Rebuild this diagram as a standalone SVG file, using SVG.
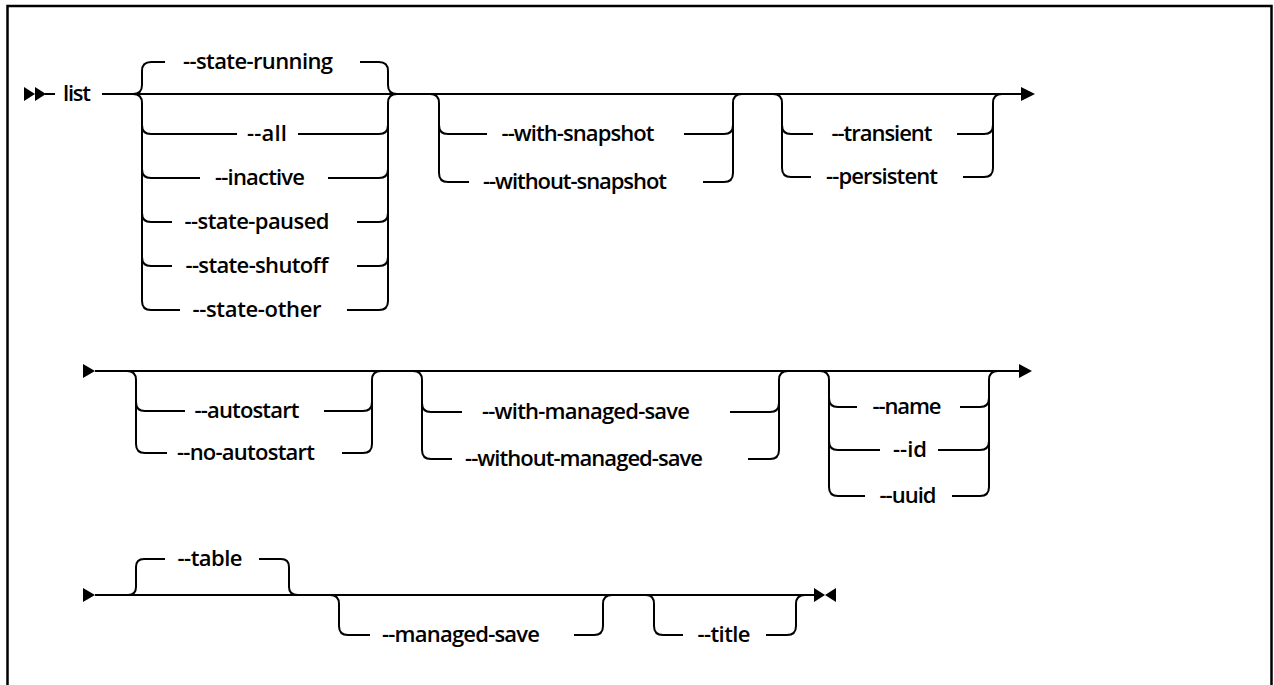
<svg xmlns="http://www.w3.org/2000/svg" width="1274" height="685" viewBox="0 0 1274 685">
<style>
.ln{fill:none;stroke:#000;stroke-width:2}
.t{font-family:"Open Sans","Liberation Sans",sans-serif;font-size:22px;font-weight:600;fill:#000;text-anchor:middle}
.hd{fill:#000;stroke:none}
</style>
<rect x="0" y="0" width="1274" height="685" fill="#fff"/>
<rect x="7.5" y="6" width="1264" height="700" fill="none" stroke="#000" stroke-width="2.5"/>
<g id="connectors">
<path class="hd" d="M24,87 L35,94 L24,101 Z M35,87 L46,94 L35,101 Z"/>
<path class="ln" d="M45,94 H55 M102,94 H1022"/>
<path class="hd" d="M1021,87 L1035,94 L1021,101 Z"/>
<path class="ln" d="M133,94 Q142,94 142,85 V71 Q142,62 151,62 H165 M360,62 H379 Q388,62 388,71 V85 Q388,94 397,94"/>
<path class="ln" d="M133,94 Q142,94 142,103 V301 Q142,310 151,310 H180 M142,125 Q142,134 151,134 H237 M142,169 Q142,178 151,178 H200 M142,213 Q142,222 151,222 H172 M142,257 Q142,266 151,266 H172"/>
<path class="ln" d="M397,94 Q388,94 388,103 V301 Q388,310 379,310 H347 M388,125 Q388,134 379,134 H298 M388,169 Q388,178 379,178 H328 M388,213 Q388,222 379,222 H357 M388,257 Q388,266 379,266 H357"/>
<path class="ln" d="M430,94 Q439,94 439,103 V173 Q439,182 448,182 H469 M439,125 Q439,134 448,134 H487 M742,94 Q733,94 733,103 V173 Q733,182 724,182 H703 M733,125 Q733,134 724,134 H684"/>
<path class="ln" d="M773,94 Q782,94 782,103 V168 Q782,177 791,177 H811 M782,125 Q782,134 791,134 H813 M1002,94 Q993,94 993,103 V168 Q993,177 984,177 H963 M993,125 Q993,134 984,134 H957"/>
<path class="hd" d="M83,364 L95,371 L83,378 Z"/>
<path class="ln" d="M95,371 H1020"/>
<path class="hd" d="M1019,364 L1032,371 L1019,378 Z"/>
<path class="ln" d="M127,371 Q136,371 136,380 V444 Q136,453 145,453 H167 M136,402 Q136,411 145,411 H185 M381,371 Q372,371 372,380 V444 Q372,453 363,453 H342 M372,402 Q372,411 363,411 H324"/>
<path class="ln" d="M413,371 Q422,371 422,380 V450 Q422,459 431,459 H452 M422,403 Q422,412 431,412 H462 M788,371 Q779,371 779,380 V450 Q779,459 770,459 H748 M779,403 Q779,412 770,412 H730"/>
<path class="ln" d="M820,371 Q829,371 829,380 V487 Q829,496 838,496 H865 M829,398 Q829,407 838,407 H857 M829,441 Q829,450 838,450 H880 M998,371 Q989,371 989,380 V487 Q989,496 980,496 H952 M989,398 Q989,407 980,407 H960 M989,441 Q989,450 980,450 H938"/>
<path class="hd" d="M83,588 L95,595 L83,602 Z"/>
<path class="ln" d="M95,595 H814"/>
<path class="hd" d="M814,588 L825,595 L814,602 Z M836,588 L825,595 L836,602 Z"/>
<path class="ln" d="M128,595 Q136,595 136,587 V567 Q136,559 144,559 H165 M259,559 H281 Q289,559 289,567 V587 Q289,595 298,595"/>
<path class="ln" d="M330,595 Q339,595 339,604 V626 Q339,635 348,635 H370 M574,635 H594 Q603,635 603,626 V604 Q603,595 612,595"/>
<path class="ln" d="M646,595 Q654,595 654,604 V626 Q654,635 663,635 H683 M766,635 H787 Q796,635 796,626 V604 Q796,595 805,595"/>
</g>
<g id="n-list"><text class="t" x="77" y="101" textLength="28">list</text></g>
<g id="n-state-running"><text class="t" x="258" y="69" textLength="150">--state-running</text></g>
<g id="n-all"><text class="t" x="267" y="141" textLength="40">--all</text></g>
<g id="n-inactive"><text class="t" x="260" y="185" textLength="90">--inactive</text></g>
<g id="n-state-paused"><text class="t" x="257" y="229" textLength="145">--state-paused</text></g>
<g id="n-state-shutoff"><text class="t" x="257" y="273" textLength="143">--state-shutoff</text></g>
<g id="n-state-other"><text class="t" x="257" y="317" textLength="129">--state-other</text></g>
<g id="n-with-snapshot"><text class="t" x="578" y="141" textLength="153">--with-snapshot</text></g>
<g id="n-without-snapshot"><text class="t" x="575" y="189" textLength="184">--without-snapshot</text></g>
<g id="n-transient"><text class="t" x="882" y="141" textLength="101">--transient</text></g>
<g id="n-persistent"><text class="t" x="882" y="184" textLength="112">--persistent</text></g>
<g id="n-autostart"><text class="t" x="247" y="418" textLength="105">--autostart</text></g>
<g id="n-no-autostart"><text class="t" x="246" y="460" textLength="138">--no-autostart</text></g>
<g id="n-with-managed-save"><text class="t" x="586" y="419" textLength="208">--with-managed-save</text></g>
<g id="n-without-managed-save"><text class="t" x="584" y="466" textLength="238">--without-managed-save</text></g>
<g id="n-name"><text class="t" x="907" y="414" textLength="69">--name</text></g>
<g id="n-id"><text class="t" x="910" y="457" textLength="34">--id</text></g>
<g id="n-uuid"><text class="t" x="908" y="503" textLength="57">--uuid</text></g>
<g id="n-table"><text class="t" x="210" y="566" textLength="65">--table</text></g>
<g id="n-managed-save"><text class="t" x="461" y="642" textLength="158">--managed-save</text></g>
<g id="n-title"><text class="t" x="724" y="642" textLength="53">--title</text></g>
</svg>
